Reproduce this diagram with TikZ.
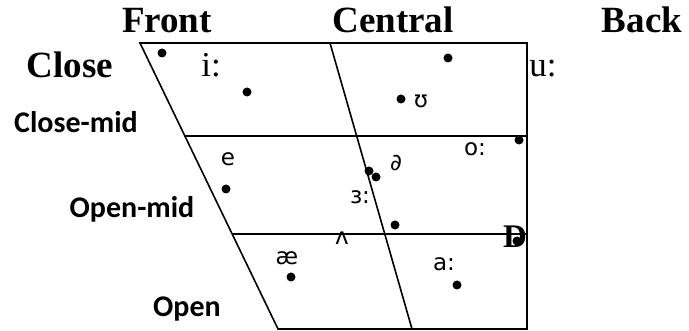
\documentclass[tikz,border=0pt]{standalone}
\usepackage{fontspec}
\setmainfont{Liberation Serif}
\newfontfamily\calfont{Carlito}
\newfontfamily\djfont{DejaVu Sans}
\begin{document}
\begin{tikzpicture}[x=1pt,y=-1pt,
  edge/.style={line width=1.6pt,line cap=rect},
  headlbl/.style={inner sep=0pt,anchor=base,font=\fontsize{37}{40}\selectfont\bfseries},
  serifv/.style={inner sep=0pt,anchor=base,font=\fontsize{35}{38}\selectfont},
  rowlbl/.style={inner sep=0pt,anchor=base,font=\calfont\fontsize{30}{34}\selectfont\bfseries},
  vowel/.style={inner sep=0pt,font=\djfont\fontsize{23}{26}\selectfont},
  dotmark/.style={circle,fill=black,inner sep=0pt,minimum size=9pt}]
\useasboundingbox (0,0) rectangle (689,331);
% frame
\coordinate (TL) at (140,43);
\coordinate (TR) at (527,43);
\coordinate (BR) at (527,329);
\coordinate (BL) at (278,329);
\coordinate (CML) at (185,136);
\coordinate (CMR) at (527,136);
\coordinate (OML) at (233,234);
\coordinate (OMR) at (527,234);
\coordinate (CT) at (330,43);
\coordinate (CB) at (412,329);
\draw[edge] (TL) -- (TR) -- (BR) -- (BL) -- cycle;
\draw[edge] (CML) -- (CMR);
\draw[edge] (OML) -- (OMR);
\draw[edge] (CT) -- (CB);
% headings
\node[headlbl] (front) at (167,33) {Front};
\node[headlbl] (central) at (393,33) {Central};
\node[headlbl] (back) at (642,33) {Back};
\node[headlbl] (close) at (70,78) {Close};
\node[rowlbl] (closemid) at (76,133) {Close-mid};
\node[rowlbl] (openmid) at (132,218) {Open-mid};
\node[rowlbl] (open) at (187,317) {Open};
% serif vowels
\node[serifv] (ii) at (211,77) {i:};
\node[serifv] (uu) at (543,77) {u:};
\node[inner sep=0pt,font=\fontsize{33}{36}\selectfont\bfseries] (dd) at (515,237) {D};
% sans vowels
\node[vowel] (e) at (228,159) {e};
\node[vowel] (upsilon) at (421,101) {ʊ};
\node[vowel] (oo) at (475,149) {o:};
\node[vowel] (schwa) at (396,163) {∂};
\node[vowel] (er) at (360,197) {ɜ:};
\node[vowel] (wedge) at (342,238) {ʌ};
\node[vowel] (ae) at (287,258) {æ};
\node[vowel] (aa) at (444,264) {a:};
% dots
\node[dotmark] (d1) at (162,53) {};
\node[dotmark] (d2) at (247,92) {};
\node[dotmark] (d3) at (448,58) {};
\node[dotmark] (d4) at (401,99) {};
\node[dotmark] (d5) at (519,140) {};
\node[dotmark] (d6) at (226,189) {};
\node[dotmark] (d7) at (369,171) {};
\node[dotmark] (d8) at (376,177) {};
\node[dotmark] (d9) at (395,225) {};
\node[dotmark] (d10) at (517,241) {};
\node[dotmark] (d11) at (291,277) {};
\node[dotmark] (d12) at (457,285) {};
\end{tikzpicture}
\end{document}
